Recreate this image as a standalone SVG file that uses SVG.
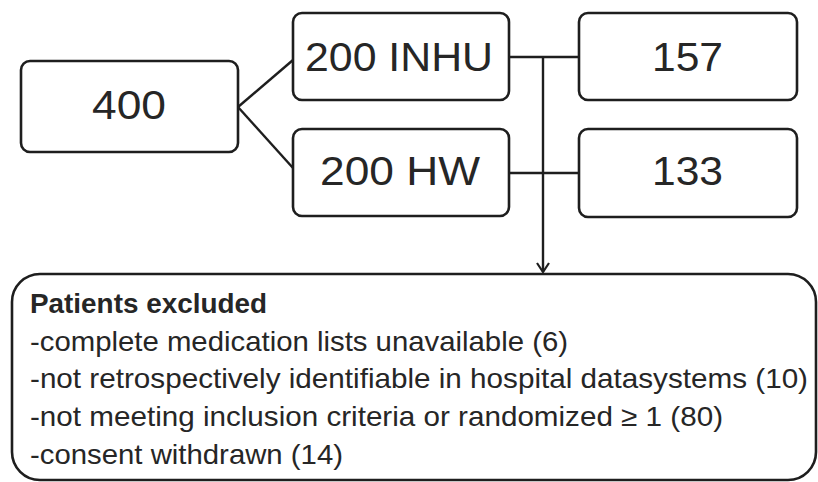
<svg xmlns="http://www.w3.org/2000/svg" width="818" height="482" viewBox="0 0 818 482">
<style>
.box{fill:#fff;stroke:#1e1e1e;stroke-width:2.6}
.big{font-family:"Liberation Sans",Arial,sans-serif;font-size:41px;fill:#262626;text-anchor:middle}
.sm{font-family:"Liberation Sans",Arial,sans-serif;font-size:28px;fill:#262626}
.con{fill:none;stroke:#1e1e1e;stroke-width:2.4}
</style>
<defs>
<marker id="arr" markerWidth="16" markerHeight="16" refX="12" refY="7" orient="auto" markerUnits="userSpaceOnUse">
<path d="M3,1 L12,7 L3,13" fill="none" stroke="#1e1e1e" stroke-width="2.2"/>
</marker>
</defs>
<rect width="818" height="482" fill="#fff"/>
<g id="connectors">
<path class="con" d="M238,107 L293,60"/>
<path class="con" d="M238,107 L293,168"/>
<path class="con" d="M509,57 L579,57"/>
<path class="con" d="M509,173 L579,173"/>
<path class="con" d="M543,57 L543,272" marker-end="url(#arr)"/>
</g>
<g id="n400">
<rect class="box" x="21" y="61" width="217" height="91" rx="9"/>
<text class="big" x="129" y="119" textLength="74" lengthAdjust="spacingAndGlyphs">400</text>
</g>
<g id="inhu">
<rect class="box" x="293" y="13" width="216" height="87" rx="9"/>
<text class="big" x="399" y="71" textLength="188" lengthAdjust="spacingAndGlyphs">200 INHU</text>
</g>
<g id="hw">
<rect class="box" x="293" y="129" width="216" height="87" rx="9"/>
<text class="big" x="400" y="185" textLength="160" lengthAdjust="spacingAndGlyphs">200 HW</text>
</g>
<g id="n157">
<rect class="box" x="579" y="13" width="218" height="87" rx="9"/>
<text class="big" x="687.5" y="71" textLength="71" lengthAdjust="spacingAndGlyphs">157</text>
</g>
<g id="n133">
<rect class="box" x="579" y="129" width="218" height="88" rx="9"/>
<text class="big" x="687.5" y="185" textLength="71" lengthAdjust="spacingAndGlyphs">133</text>
</g>
<g id="excluded">
<rect class="box" x="12" y="274" width="804" height="206" rx="28"/>
<text class="sm" x="30" y="313" font-weight="bold" textLength="237" lengthAdjust="spacingAndGlyphs">Patients excluded</text>
<text class="sm" x="30" y="351" textLength="538" lengthAdjust="spacingAndGlyphs">-complete medication lists unavailable (6)</text>
<text class="sm" x="30" y="388" textLength="778" lengthAdjust="spacingAndGlyphs">-not retrospectively identifiable in hospital datasystems (10)</text>
<text class="sm" x="30" y="426" textLength="693" lengthAdjust="spacingAndGlyphs">-not meeting inclusion criteria or randomized ≥ 1 (80)</text>
<text class="sm" x="30" y="464" textLength="313" lengthAdjust="spacingAndGlyphs">-consent withdrawn (14)</text>
</g>
</svg>
